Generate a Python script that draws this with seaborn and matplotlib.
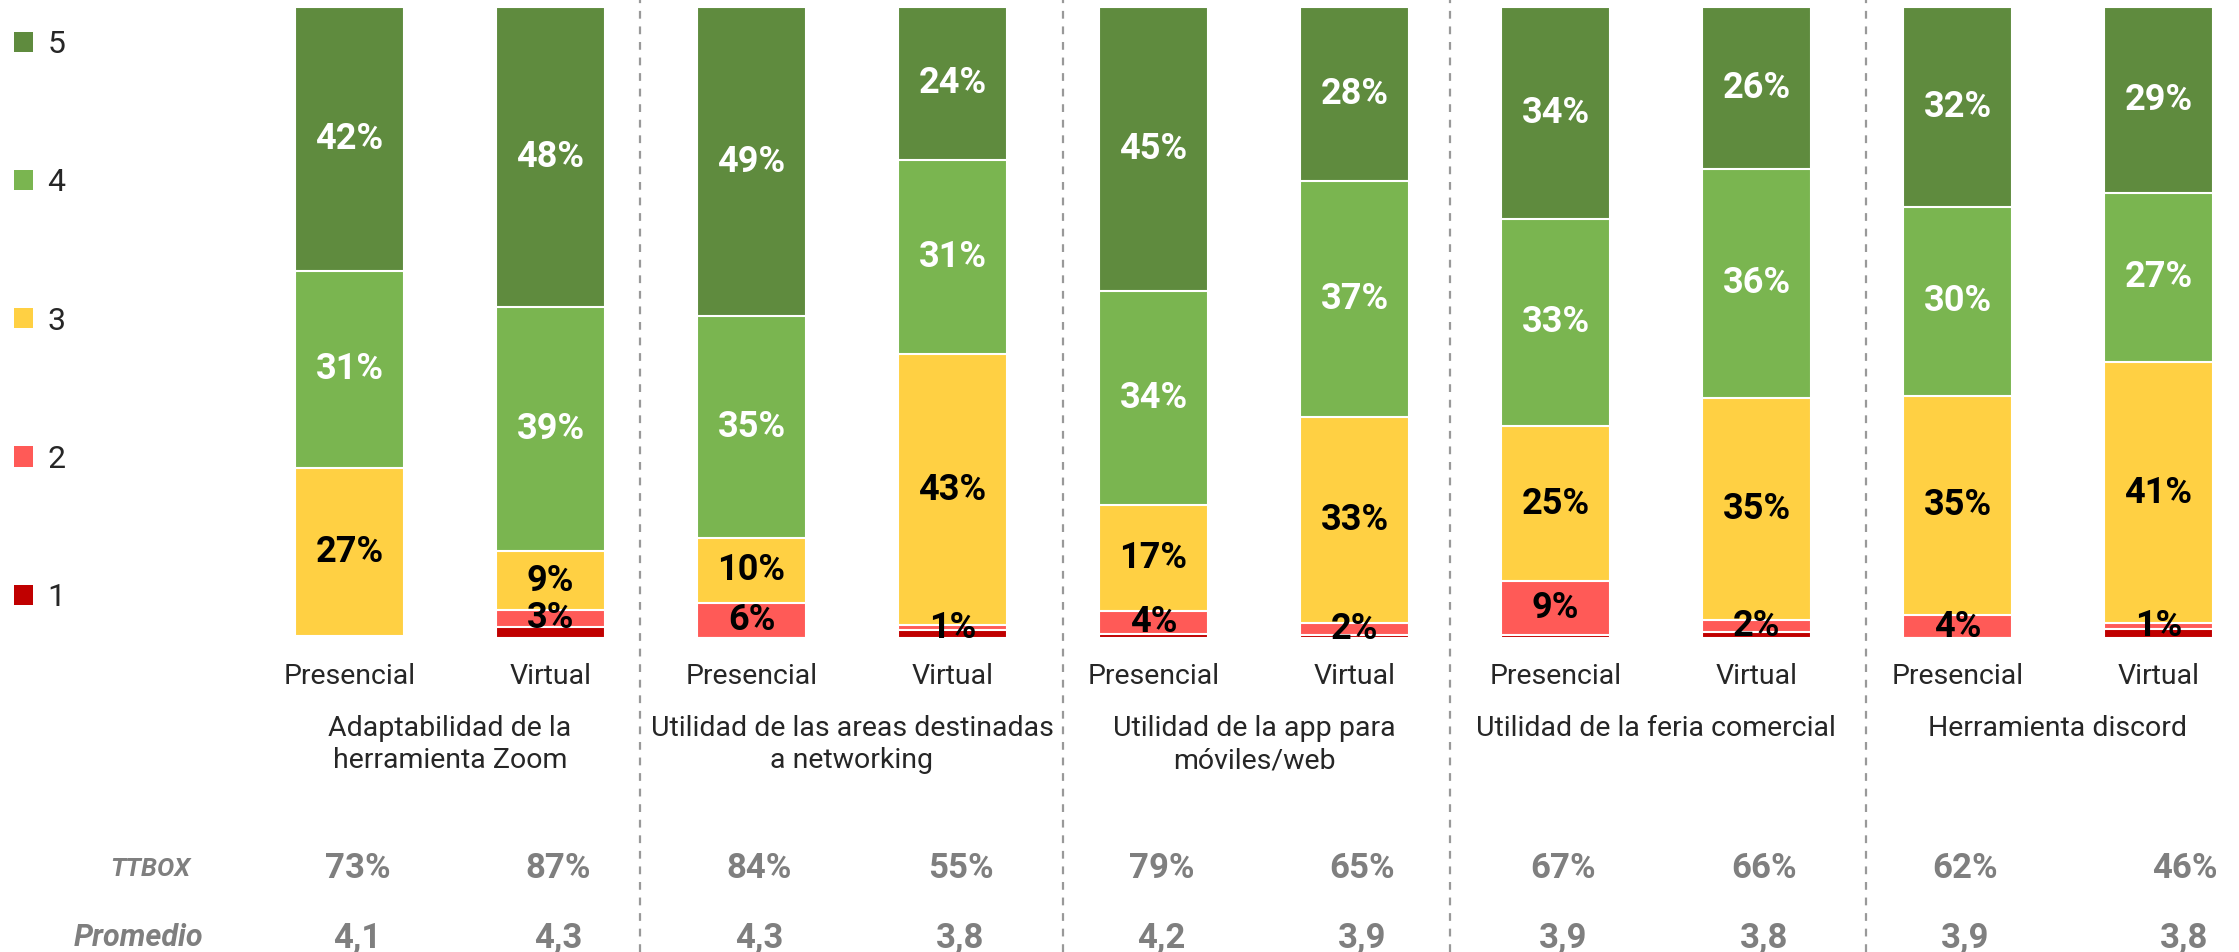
import numpy as np
import pandas as pd
import matplotlib
matplotlib.use('Agg')
import matplotlib.pyplot as plt
import seaborn as sns
from matplotlib import font_manager
from matplotlib.patches import Patch

# data (percent of answers per score, bottom -> top)
groups = ['Adaptabilidad de la\nherramienta Zoom',
          'Utilidad de las areas destinadas\na networking',
          'Utilidad de la app para\nmóviles/web',
          'Utilidad de la feria comercial',
          'Herramienta discord']
modes = ['Presencial', 'Virtual']
s1 = [0.0, 1.8, 0.0, 1.2, 0.7, 0.4, 0.4, 0.9, 0.0, 1.4]
s2 = [0.3, 2.6, 5.6, 0.8, 3.6, 2.0, 8.6, 1.9, 3.6, 0.9]
s3 = [26.7, 9.4, 10.2, 43.0, 16.8, 32.6, 24.6, 35.2, 34.8, 41.4]
s4 = [31.2, 38.6, 35.2, 30.8, 33.9, 37.4, 32.8, 36.4, 29.9, 26.9]
s5 = [41.8, 47.6, 49.0, 24.2, 45.0, 27.6, 33.6, 25.6, 31.7, 29.4]
ttbox = [73, 87, 84, 55, 79, 65, 67, 66, 62, 46]
promedio = [4.1, 4.3, 4.3, 3.8, 4.2, 3.9, 3.9, 3.8, 3.9, 3.8]

levels = ['1', '2', '3', '4', '5']
colors = {'5': '#5F8B3E', '4': '#7AB550', '3': '#FFD043', '2': '#FF5A57', '1': '#C00000'}
txtcol = {'5': 'white', '4': 'white', '3': 'black', '2': 'black'}

sns.set_style('white')
names = {f.name for f in font_manager.fontManager.ttflist}
FONT = 'Liberation Sans Narrow' if 'Liberation Sans Narrow' in names else 'Roboto'
plt.rcParams['font.family'] = [FONT, 'DejaVu Sans']

df = pd.DataFrame({'1': s1, '2': s2, '3': s3, '4': s4, '5': s5})
df['bar'] = range(len(df))
cum = df[levels].cumsum(axis=1)

fig = plt.figure(figsize=(22.39, 9.52), dpi=100)
ax = fig.add_axes([0, 0, 1, 1])

# stacked bars: draw cumulative totals from the top level down
for lv in reversed(levels):
    sns.barplot(x=df['bar'], y=cum[lv], color=colors[lv], width=0.54,
                saturation=1, edgecolor='white', linewidth=1.5, ax=ax)

# pixel helpers (figure is 2239x952, bar base at 638px, top at 7px)
def ypx(p):
    return (638 - p) * 100 / 631

def xpx(p):
    return (p - 349.5) / 201

ax.set_xlim(xpx(0), xpx(2239))
ax.set_ylim(ypx(952), ypx(0))
ax.axis('off')

# segment labels
for lv in ['2', '3', '4', '5']:
    for i, v in enumerate(df[lv]):
        if round(v) >= 1:
            ax.text(i, cum[lv][i] - v / 2, f'{round(v)}%', ha='center', va='center',
                    fontsize=26, fontweight='bold', color=txtcol[lv])

# separators between groups
for xs in [1.445, 3.55, 5.475, 7.545]:
    ax.axvline(xs, color='#999999', lw=1.6, ls=(0, (3.5, 3.5)))

# x labels and summary rows (table columns sit a bit right of the bars)
n = len(df)
for i in range(n):
    shift = (26 if i == n - 1 else 8) / 201
    ax.text(i, ypx(677), modes[i % 2], ha='center', va='center', fontsize=20.5)
    ax.text(i + shift, ypx(869), f'{ttbox[i]}%', ha='center', va='center',
            fontsize=25, fontweight='bold', color='#7F7F7F')
    ax.text(i + shift, ypx(938), f'{promedio[i]:.1f}'.replace('.', ','), ha='center',
            va='center', fontsize=25, fontweight='bold', color='#7F7F7F')

for g, name in enumerate(groups):
    for k, line in enumerate(name.split('\n')):
        ax.text(2 * g + 0.5, ypx(729 + 32 * k), line, ha='center', va='center', fontsize=20.5)

ax.text(xpx(150), ypx(869), 'TTBOX', ha='center', va='center', fontsize=18.5,
        style='italic', fontweight='bold', color='#7F7F7F')
ax.text(xpx(138), ypx(938), 'Promedio', ha='center', va='center', fontsize=22,
        style='italic', fontweight='bold', color='#7F7F7F')

handles = [Patch(facecolor=colors[lv], edgecolor='none') for lv in reversed(levels)]
fig.legend(handles, list(reversed(levels)), loc='upper left',
           bbox_to_anchor=(14 / 2239, 1 - 30 / 952), frameon=False, fontsize=23,
           handlelength=0.6, handleheight=0.6, handletextpad=0.45,
           labelspacing=3.42, borderpad=0, borderaxespad=0)

fig.savefig('out.png', dpi=100)
